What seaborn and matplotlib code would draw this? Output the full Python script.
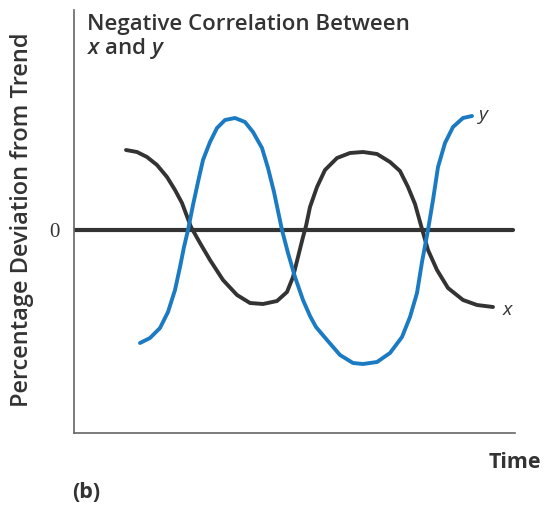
import numpy as np
import pandas as pd
import matplotlib
matplotlib.use("Agg")
import matplotlib.pyplot as plt
import seaborn as sns

# values (time in arbitrary units, deviation in %)
time_x = [52, 63, 73, 83, 93, 101, 108, 114, 117, 126, 136, 149, 163, 176, 189, 203, 213, 219, 224, 229,
          232, 236, 243, 251, 263, 276, 289, 303, 316, 326, 334, 341, 348, 354, 363, 374, 389, 403, 419]
dev_x = [8.0, 7.8, 7.3, 6.5, 5.3, 4.0, 2.7, 1.1, 0.3, -1.3, -3.0, -5.0, -6.5, -7.3, -7.4, -7.1, -6.2, -4.7, -2.7, -0.7,
         0.4, 2.3, 4.3, 6.0, 7.2, 7.7, 7.8, 7.6, 6.8, 5.9, 4.3, 2.6, 0.1, -2.0, -4.0, -5.8, -7.0, -7.5, -7.7]

time_y = [66, 76, 86, 94, 101, 106, 110, 114, 119, 124, 129, 136, 143, 151, 161, 171, 179, 188, 194, 200,
          208, 214, 221, 229, 236, 242, 253, 266, 279, 289, 303, 316, 328, 336, 343, 348, 354, 359, 364, 371,
          379, 389, 398]
dev_y = [-11.3, -10.8, -9.8, -8.2, -6.0, -3.7, -1.7, 0.0, 2.5, 4.8, 7.0, 8.8, 10.2, 11.0, 11.2, 10.8, 9.8, 8.2, 6.2, 3.8,
         0.0, -2.3, -4.7, -7.0, -8.6, -9.7, -11.0, -12.5, -13.3, -13.4, -13.2, -12.3, -10.7, -8.7, -6.3, -3.2, 0.0, 3.0, 6.3, 8.7,
         10.3, 11.2, 11.4]

df_x = pd.DataFrame({"Time": time_x, "Deviation": dev_x})
df_y = pd.DataFrame({"Time": time_y, "Deviation": dev_y})

sns.set_style("white")
plt.rcParams['font.family'] = ['Open Sans', 'DejaVu Sans']
plt.rcParams['mathtext.fontset'] = 'custom'
plt.rcParams['mathtext.it'] = 'Open Sans:italic:semibold'

W, H = 547, 507
fig = plt.figure(figsize=(W / 100, H / 100), dpi=100)
ax = fig.add_axes([74 / W, 1 - 433 / H, (515 - 74) / W, (433 - 10) / H])

BLUE = '#1b7bc2'
DARK = '#333333'

ax.axhline(0, color=DARK, lw=3, xmax=0.995, zorder=1)
sns.lineplot(data=df_x, x="Time", y="Deviation", ax=ax, color=DARK, lw=2.8, zorder=2,
             solid_joinstyle='round')
sns.lineplot(data=df_y, x="Time", y="Deviation", ax=ax, color=BLUE, lw=2.8, zorder=3,
             solid_joinstyle='round')

ax.set_xlim(0, 441)
ax.set_ylim(-20.3, 22)
ax.set_xticks([])
ax.set_yticks([0])
ax.set_yticklabels(["0"], fontfamily='Liberation Serif', fontsize=15, color='#333333')
ax.tick_params(axis='y', length=0, pad=10)
ax.set_xlabel("")
ax.set_ylabel("")
for s in ['top', 'right']:
    ax.spines[s].set_visible(False)
for s in ['left', 'bottom']:
    ax.spines[s].set_color('#666666')
    ax.spines[s].set_linewidth(1.2)

# curve end labels
ax.annotate("y", (time_y[-1], dev_y[-1]), xytext=(11, 1), textcoords='offset pixels',
            ha='center', va='center', fontsize=14, style='italic', color='#333333')
ax.annotate("x", (time_x[-1], dev_x[-1]), xytext=(14, -3), textcoords='offset pixels',
            ha='center', va='center', fontsize=14, style='italic', color='#333333')

def fx(px):
    return px / W

def fy(py):
    return 1 - py / H

fs = 16
fig.text(fx(87), fy(30), "Negative Correlation Between", fontsize=fs, fontweight='semibold',
         color='#333333', va='baseline')
fig.text(fx(87), fy(54), "$x$ and $y$", fontsize=fs, fontweight='semibold',
         color='#333333', va='baseline')
fig.text(fx(22), fy(220), "Percentage Deviation from Trend", rotation=90, fontsize=17,
         fontweight='semibold', color='#333333', ha='center', va='center')
fig.text(fx(541), fy(468), "Time", fontsize=15.5, fontweight='bold', color='#333333',
         ha='right', va='baseline')
fig.text(fx(72), fy(498), "(b)", fontsize=15.5, fontweight='bold', color='#333333',
         ha='left', va='baseline')

fig.savefig("out.png", dpi=100)
